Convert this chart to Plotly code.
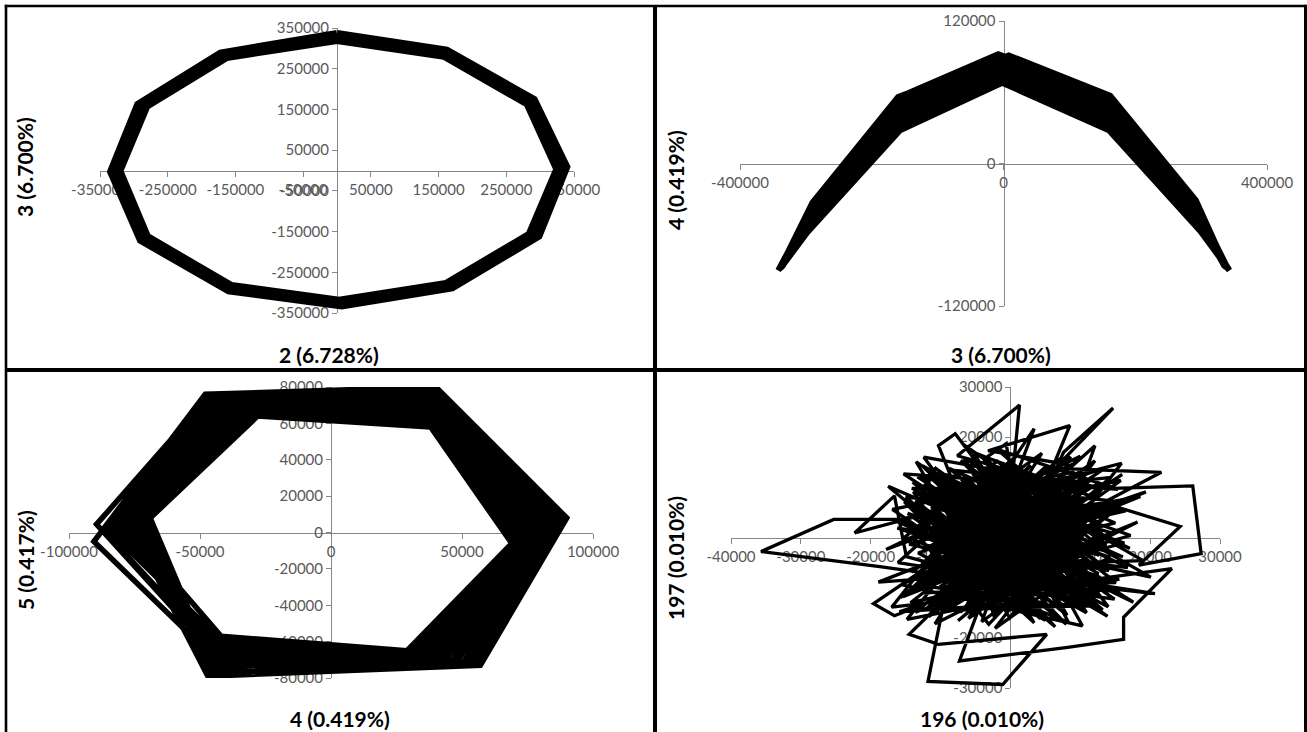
import plotly.graph_objects as go

W, H = 1307, 732
AXIS_GREY = "#868686"
TICK_FONT = dict(family="Lato, 'Open Sans', sans-serif", size=15, color="#595959")
TITLE_FONT = dict(family="Lato, 'Open Sans', sans-serif", size=21, color="#000000")

# ---------------- component scores ----------------
# PC2 vs PC3: three passes around the 12-step cycle
pc2_pass_a = [0, 162000, 291000, 339000, 298000, 170000, 7000, -160000, -290000, -334000, -294000, -172000, 0]
pc3_pass_a = [336000, 295000, 174000, 9000, -161000, -288000, -332000, -295000, -171000, -3000, 162000, 288000, 336000]
pc2_pass_b = [0, 160000, 286000, 332000, 291000, 166000, 5000, -158000, -285000, -328000, -288000, -168000, 0]
pc3_pass_b = [328000, 288000, 169000, 6000, -159000, -283000, -325000, -289000, -167000, -2000, 160000, 283000, 328000]
pc2_pass_c = [0, 158000, 281000, 325000, 284000, 161000, 3000, -156000, -280000, -321000, -281000, -163000, 0]
pc3_pass_c = [320000, 281000, 164000, 3000, -157000, -278000, -319000, -283000, -163000, -1000, 158000, 278000, 320000]

# PC3 vs PC4: seven consecutive cycles
pc3_cycles = [
    338000, 292000, 162000, 8000, -160000, -290000, -340000, -294000, -161000, -5000, 163000, 295500,
    341000, 293200, 164000, 6300, -158000, -291400, -337000, -295400, -162000, -4000, 161000, 296700,
    336000, 294300, 160000, 4700, -163000, -292600, -342000, -296600, -159000, -3000, 165000, 297800,
    339000, 295500, 163000, 3000, -160000, -294000, -338000, -298000, -157000, -2000, 160000, 299000,
    343000, 296700, 162000, 1300, -161000, -295400, -336000, -290000, -158000, -8000, 159000, 292000,
    337000, 297800, 164000, -300, -159000, -296600, -341000, -291400, -162000, -7000, 163000, 293200,
    340000, 299000, 161000, -2000, -160000, -298000, -339000, -292600, -160000, -6000, 162000, 294300,
    338000]
pc4_cycles = [
    -88000, -31000, 57000, 91000, 56000, -33000, -89000, -45500, 42000, 80000, 42500, -44000,
    -89000, -35400, 52100, 87100, 51200, -37300, -87000, -49700, 37200, 75900, 37600, -48400,
    -87000, -39600, 47400, 83400, 46800, -41300, -90000, -53800, 32800, 72100, 32900, -52600,
    -88000, -44000, 42500, 79500, 42000, -45500, -88000, -58000, 28000, 68000, 28000, -57000,
    -90000, -48400, 37600, 75600, 37200, -49700, -87000, -33000, 56000, 92000, 57000, -31000,
    -86000, -52600, 32900, 71900, 32800, -53800, -89000, -37300, 51200, 87900, 52100, -35400,
    -88000, -57000, 28000, 68000, 28000, -58000, -88000, -41300, 46800, 84100, 47400, -39600,
    -88000]

# PC4 vs PC5: fourteen laps of the six-point orbit
pc4_laps = [
    -80300, -38800, 39100, 80300, 44100, -44700,
    -90500, -48000, 40000, 90000, 57000, -47000,
    -77000, -35600, 38800, 77000, 39600, -43900,
    -86900, -45000, 39700, 86900, 52800, -46300,
    -72200, -31000, 38300, 72200, 33200, -42800,
    -83500, -41800, 39400, 83500, 48300, -45500,
    -69000, -28000, 38000, 69000, 29000, -42000,
    -78700, -37200, 38900, 78700, 41900, -44300,
    -89500, -46400, 39800, 88300, 54800, -46600,
    -70700, -29600, 38200, 70700, 31200, -42400,
    -85200, -43400, 39500, 85200, 50600, -45900,
    -75500, -34200, 38600, 75500, 37700, -43600,
    -82000, -40400, 39200, 82000, 46400, -45100,
    -73800, -32600, 38500, 73800, 35400, -43200,
    -80300]
pc5_laps = [
    3700, 70500, 69900, 1600, -69300, -68900,
    -5000, 76000, 80000, 8000, -73000, -79000,
    5000, 68600, 66400, -700, -68000, -65400,
    1200, 74200, 76700, 5900, -71800, -75700,
    6800, 65800, 61300, -3900, -66200, -60300,
    2500, 72300, 73200, 3700, -70500, -72200,
    8000, 64000, 58000, -6000, -65000, -57000,
    4300, 69500, 68100, 400, -68700, -67100,
    4500, 75000, 78200, 6900, -72400, -77200,
    7400, 65000, 59800, -4900, -65600, -58800,
    1800, 73200, 74900, 4800, -71200, -73900,
    5500, 67700, 64800, -1700, -67500, -63800,
    3000, 71400, 71600, 2700, -70000, -70600,
    6200, 66800, 63100, -2800, -66800, -62100,
    3700]

# PC196 vs PC197: noise components
pc196 = [
    2100, -8700, 11300, -4500, 6800, -12600, 3900, 9500, -6100, 14200,
    -2800, -13900, 7400, 600, -10200, 12700, -5300, 4300, -9800, 16100,
    -1200, -15400, 10600, -7200, 5700, -11500, 8900, -3600, 13800, -14700,
    1800, -6900, 15300, -9100, 3200, -4800, 11900, -12100, 7900, -900,
    -16200, 6200, -2300, 12400, -8400, 9700, -13300, 4800, -5900, 14900,
    -18700, -35700, -25300, -15700, -3100, 10200, -7600, 1300, -200, 8100,
    -11000, 13100, -4100, 2700, -14200, 6500, -1700, 11100, -9400, 4100,
    -6600, 15800, -12900, 200, 7200, -3300, 9200, -15900, 5100, -7900,
    14700, 26100, 27300, 18400, 24300, 15200, -2500, 10800, -10700, 3600,
    -5600, 12300, -13600, 1100, 8400, -8200, 14100, -4300, 6900, -11800,
    3400, -2100, 14700, 7600, -1500, -10300, -7900, 900, 12100, 5400,
    -14500, 9900, -6300, 17200, -3900, 2300, -12400, 11600, -400, -9600,
    -11800, -1100, 5200, -10300, -14500, -4700, 8600, -7000, 13400, -1900,
    -15100, 6000, -8900, 10400, -3000, 15600, -12300, 2800, -5500, 9000,
    -10900, 4400, -7500, 12900, -2600, 7700, -14000, 500, 11700, -6800,
    20700, 9600, 23100, 16200, 16200, 8200, -200, -7300, -3400, 5900,
    -9300, 13600, -4400, 1500, -12700, 8300, -1000, 10100, -16600, -19600,
    -8000, 6600, -3700, 11400, -11200, 3000, -6400, 14500, -13000, 4900,
    21600, 10500, 19400, 2200, -9900, 8800, -5000, 12000, -15000, 0,
    7000, -7700, 15000, -2000, 5500, -11600, 9300, -4000, 13200, -14900,
    -16600, -22300, -13400, -11200, -700, 6300, -3200, 8500, 5000, -8600,
    11000, -6000, 2600, -12200, 14400, -1400, 9800, -10000, 3700, -7300,
    12600, -4900, 800, -13800, 7300, -2900, 10900, -9000, 4600, -5200,
    16500, -11400, 1900, -600, -3800, 6100, -14300, 9400, -6500, 13000,
    -2400, -8100, 3300, 12500, -10600, 5800, -1600, 20100, 8000, -4600,
    2000, -17500, 6400, -300, 18200, -10800, 4500, -13100, 11800, -5800,
    1600, -18900, 13300, -7100, 8700, -2200, 15900, -12800, 2400, -9500,
    17600, -4200, 7800, -15600, 10300, -1300, -11900, 5300, -6700, 13700,
    -3500, 9100, -16900, 3800, -8300, 12200, -100, -13500, 7100, -4900,
    16800, -9700, 2900, -14800, 11500, -2700, 6700, -11100, 14800, -6200,
    400, -17800, 10000, -3000, 4200, -10400, 13900, -7800, 1200, -12000,
    8200, -1900, 15400, -15300, 5600, -6800, 11200, -3100, -13700, 9500,
    -800, 17100, -8800, 3500, -11700, 7500, -4400, 12800, -16100, 1000,
    -7400, 14300, -2500, 6000, -14100, 10700, -5400, 2100, -9200, 16000,
    -500, -12600, 8900, -6000, 4000, -15800, 12100, -1500, -8600, 7400,
    -3800, 15100, -10100, 700, -5100, 9800, -13200, 5000, -7000, 13500,
    -2000, -16400, 3100, 10900, -9300, 6300, -4600, 12700, -11300, -700,
    8600, -14400, 18600, -3300, 5200, -8000, 11600, -12400, 1700, -6500,
    14000, -1100, -17000, 7900, -4000, 10200, -9900, 3400, -13000, 9000,
    -5700, 16300, -2900, -10600, 6800, -7300, 12900, -15200, 100, 4700,
    -11800, 19000, -6600, 2500, -13600, 11000, -3700, 8000, -9000, 15700,
    -200]
pc197 = [
    -3400, 6200, -1800, -9900, 8400, -2700, 11800, -11200, 2900, 4600,
    -13700, 9100, -6300, 13500, -8400, 10900, -4100, -16200, 12400, -3900,
    6700, -11800, 2300, -14900, 4100, 800, 14600, -7200, -9400, 4800,
    -11900, 10300, 7200, -5600, 1400, 14100, -13600, -14300, 11200, -1800,
    1900, -9100, 9800, -4900, -12700, 5800, 12100, -4600, 7500, -12300,
    -5800, -2800, 3600, 3600, -5300, 9400, 16300, 26400, 5100, -15500,
    5900, 1200, -16800, 8900, -6900, 12700, -10600, -7800, 8100, -1100,
    -11400, 11400, 2400, -6700, 15800, 3700, -3100, -14800, -12800, 13400,
    9800, 10300, -3200, -5500, 2200, 6100, -2100, -10100, -3600, 6300,
    -15700, 3300, 7300, -8400, 10400, -700, -6600, 12300, -13900, -9700,
    21700, 1600, 25800, 17000, -12200, 18300, 20700, 4400, 18300, -7900,
    -1300, 7700, -8800, 400, 10900, -14600, 10600, -12000, 300, -13500,
    -28700, -29300, -19300, -21300, -19300, -6000, 3900, 4700, -2600, 15200,
    100, -10800, 9600, 12200, -13100, -8300, -11100, 9700, 1200, -5800,
    14000, -2400, -16600, 6800, 4200, -12400, 11000, -4900, 1900, -7000,
    -11200, -8800, -6200, -15900, -20300, -21900, -23300, -24600, -10000, 5500,
    3400, 13900, -2900, 10100, -5200, -16900, 7900, -1000, -15600, -13200,
    -2200, 1000, 16100, 8300, -12900, -6000, 11700, -10700, -8200, 13900,
    13000, 4900, 9100, -500, 6600, -13300, -14000, 5000, 8000, -9000,
    9000, -4900, 2900, 12900, -3800, 3100, -9700, 6000, -14400, -3800,
    8300, 900, 4200, 13000, -3000, 15000, 17300, 22300, 10500, -10300,
    -4300, 5000, -12900, 7900, 12000, -6200, 1600, -15200, 3000, 8800,
    -7200, -12000, 11000, -10100, -2000, 14700, -15000, 300, 7200, -1400,
    5300, 9400, -4000, 18700, 15600, -6600, -13000, 12900, -6200, -800,
    -15400, 11200, -9600, 8900, -6500, 2500, 9200, -7900, -4200, 4300,
    -1500, 10200, -17800, -7500, 3100, -17200, 16800, -900, 11900, -10900,
    2200, -8900, -5700, 15400, -7300, -18100, 14800, 4500, -3300, 10800,
    -12900, 1900, 7300, -9400, -17600, 11600, -4300, -1700, 18500, -1400,
    -11600, 13100, 5600, -14200, -7700, 6400, -16000, 15100, -4900, 8600,
    -6000, -1600, 14400, -16300, -9200, 5300, -11700, 11500, 800, -13400,
    7000, -2400, 16200, -3900, -9900, 8700, -15700, 2000, -13300, -7400,
    5100, 17600, 9600, 12700, -6500, -2700, 3700, -17300, 1300, -12600,
    10500, -2200, 13800, -300, -15800, 12000, -8100, -11300, -5000, 16400,
    6900, -4000, -14700, 9900, 9800, -6900, 3200, 12300, -11900, 12600,
    -2600, 14300, -1900, -16100, 4800, -12000, 15300, -9300, 4000, -14600,
    12000, -9000, -9800, -800, 16900, 8600, -3100, -16500, 9900, 3800,
    -5600, 3300, 10800, -13100, -14600, 1500, 13200, -3500, 6100, -12700,
    16100, -10700, 8200, 2600, -8400, -6300, 10100, 16000, -10200, 600,
    -13800, 14000, -13900, -9800, -200, 6900, 12700, -17000, 4000, 2800,
    -9000, -1100, 8100, -2300, 13500, -12400, -8000, 7100, -14100, 6000,
    -6000, -4600, 15800, -6900, -14900, 12800, -4500, -17300, 7200, 5600,
    -900]

# ---------------- axis ticks and titles ----------------
ticks_p1 = [-350000, -250000, -150000, -50000, 50000, 150000, 250000, 350000]
ticks_p2_x = [-400000, 0, 400000]
ticks_p2_y = [-120000, 0, 120000]
ticks_p3_x = [-100000, -50000, 0, 50000, 100000]
ticks_p3_y = [-80000, -60000, -40000, -20000, 0, 20000, 40000, 60000, 80000]
ticks_p4_x = [-40000, -30000, -20000, -10000, 0, 10000, 20000, 30000]
ticks_p4_y = [-30000, -20000, -10000, 0, 10000, 20000, 30000]

titles_x = ["2 (6.728%)", "3 (6.700%)", "4 (0.419%)", "196 (0.010%)"]
titles_y = ["3 (6.700%)", "4 (0.419%)", "5 (0.417%)", "197 (0.010%)"]

fig = go.Figure()


def add_line(x, y, n, width):
    ref = "" if n == 1 else str(n)
    fig.add_trace(go.Scatter(
        x=x, y=y, mode="lines", xaxis="x" + ref, yaxis="y" + ref,
        line=dict(color="#000000", width=width), hoverinfo="skip", showlegend=False))


add_line(pc2_pass_a, pc3_pass_a, 1, 7.5)
add_line(pc2_pass_b, pc3_pass_b, 1, 7.5)
add_line(pc2_pass_c, pc3_pass_c, 1, 7.5)
add_line(pc3_cycles, pc4_cycles, 2, 6)
add_line(pc4_laps, pc5_laps, 3, 5.5)
add_line(pc196, pc197, 4, 3.3)

# panel geometry in pixels: (x0, x1) and (y_top, y_bottom) of each plotting area
panels = [
    dict(xpx=(100, 574), ypx=(28, 313), xr=(-350000, 350000), yr=(-350000, 350000),
         xt=ticks_p1, yt=ticks_p1, xtitle=(329, 354), ytitle=(25, 167)),
    dict(xpx=(740, 1267), ypx=(21, 306), xr=(-400000, 400000), yr=(-120000, 120000),
         xt=ticks_p2_x, yt=ticks_p2_y, xtitle=(1001, 354), ytitle=(675, 180)),
    dict(xpx=(69, 593), ypx=(387, 678), xr=(-100000, 100000), yr=(-80000, 80000),
         xt=ticks_p3_x, yt=ticks_p3_y, xtitle=(340, 718), ytitle=(25, 560)),
    dict(xpx=(731, 1220), ypx=(387, 688), xr=(-40000, 30000), yr=(-30000, 30000),
         xt=ticks_p4_x, yt=ticks_p4_y, xtitle=(982, 718), ytitle=(675, 558)),
]

layout_axes = {}
annotations = []
for i, p in enumerate(panels, start=1):
    xd = [p["xpx"][0] / W, p["xpx"][1] / W]
    yd = [1 - p["ypx"][1] / H, 1 - p["ypx"][0] / H]
    x0_paper = xd[0] + (0 - p["xr"][0]) / (p["xr"][1] - p["xr"][0]) * (xd[1] - xd[0])
    y0_paper = yd[0] + (0 - p["yr"][0]) / (p["yr"][1] - p["yr"][0]) * (yd[1] - yd[0])
    common = dict(showgrid=False, zeroline=False, showline=True, linecolor=AXIS_GREY,
                  linewidth=1, ticks="outside", ticklen=5, tickwidth=1, tickcolor=AXIS_GREY,
                  tickfont=TICK_FONT, layer="below traces", fixedrange=True, tickmode="array",
                  automargin=False)
    sfx = "" if i == 1 else str(i)
    layout_axes["xaxis" + sfx] = dict(domain=xd, range=list(p["xr"]), anchor="free",
                                      position=y0_paper, tickvals=p["xt"],
                                      ticktext=[str(v) for v in p["xt"]], **common)
    layout_axes["yaxis" + sfx] = dict(domain=yd, range=list(p["yr"]), anchor="free",
                                      position=x0_paper, tickvals=p["yt"],
                                      ticktext=[str(v) for v in p["yt"]], **common)
    annotations.append(dict(text="<b>%s</b>" % titles_x[i - 1], xref="paper", yref="paper",
                            x=p["xtitle"][0] / W, y=1 - p["xtitle"][1] / H,
                            xanchor="center", yanchor="middle", showarrow=False, font=TITLE_FONT))
    annotations.append(dict(text="<b>%s</b>" % titles_y[i - 1], xref="paper", yref="paper",
                            x=p["ytitle"][0] / W, y=1 - p["ytitle"][1] / H, textangle=-90,
                            xanchor="center", yanchor="middle", showarrow=False, font=TITLE_FONT))


def seg(x0, y0, x1, y1, w):
    return dict(type="line", xref="paper", yref="paper", layer="above",
                x0=x0 / W, y0=1 - y0 / H, x1=x1 / W, y1=1 - y1 / H,
                line=dict(color="#000000", width=w))


frame = [
    seg(6, 4.8, 6, H, 2.6),
    seg(4.8, 6, 1306, 6, 2.6),
    seg(1305.5, 4.8, 1305.5, H, 3),
    seg(655, 6, 655, H, 4),
    seg(6, 370, 1306, 370, 4),
]

fig.update_layout(
    width=W, height=H, autosize=False,
    margin=dict(l=0, r=0, t=0, b=0, pad=0, autoexpand=False),
    paper_bgcolor="#ffffff", plot_bgcolor="rgba(0,0,0,0)",
    showlegend=False, hovermode=False,
    annotations=annotations, shapes=frame,
    **layout_axes,
)

fig.write_html("out.html", post_script="document.body.style.margin = '0';")
